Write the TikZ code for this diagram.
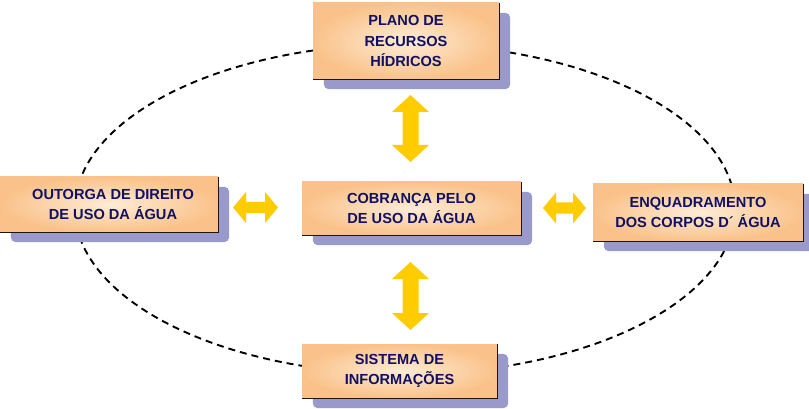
\documentclass[tikz,border=0pt]{standalone}
\usepackage{fontspec}
\setmainfont{Liberation Sans}
\usetikzlibrary{calc}
\pgfdeclarelayer{ell}
\pgfdeclarelayer{shad}
\pgfsetlayers{ell,shad,main}
\definecolor{peachout}{RGB}{250,194,138}
\definecolor{peachin}{RGB}{254,236,214}
\definecolor{shadowc}{RGB}{153,153,204}
\definecolor{navytext}{RGB}{16,16,100}
\definecolor{arrowc}{RGB}{255,204,0}
\definecolor{edgec}{RGB}{30,20,10}
\newcommand\vblockarrow[3]{% x, ytop, ybottom
  \fill[arrowc] (#1,#2) -- ++(18.5,17) -- ++(-10.5,0) -- (#1+8,#3-17) -- ++(10.5,0) -- (#1,#3)
    -- ++(-18.5,-17) -- ++(10.5,0) -- (#1-8,#2+17) -- ++(-10.5,0) -- cycle;}
\newcommand\hblockarrow[3]{% y, xleft, xright
  \fill[arrowc] (#2,#1) -- ++(13,-15.5) -- ++(0,10) -- (#3-13,#1-5.5) -- ++(0,-10) -- (#3,#1)
    -- ++(-13,15.5) -- ++(0,-10) -- (#2+13,#1+5.5) -- ++(0,10) -- cycle;}
\begin{document}
\begin{tikzpicture}[x=1pt,y=-1pt,
  box/.style={rectangle, inner sep=0pt, inner color=peachin, outer color=peachout,
    align=center, text=navytext, font=\fontsize{14.6}{20.5}\selectfont\bfseries},
  ellipseline/.style={line width=1.9pt, dash pattern=on 7pt off 5pt, black}]
\useasboundingbox (0,0) rectangle (809,409);
\begin{pgfonlayer}{ell}
  \fill[white] (0,0) rectangle (809,409);
  \draw[ellipseline] (405,209) ellipse [x radius=330pt, y radius=165pt];
\end{pgfonlayer}

\node[box, minimum width=186pt, minimum height=76pt] (plan) at (406,41) {PLANO DE\\RECURSOS\\HÍDRICOS};
\node[box, minimum width=218pt, minimum height=55pt] (outorga) at (109,204.5) {\hspace*{8pt}OUTORGA DE DIREITO\\\hspace*{8pt}DE USO DA ÁGUA};
\node[box, minimum width=219pt, minimum height=53pt] (cobranca) at (411.5,208.5) {COBRANÇA PELO\\DE USO DA ÁGUA};
\node[box, minimum width=210pt, minimum height=57pt] (enquad) at (698,212.5) {ENQUADRAMENTO\\DOS CORPOS D´ ÁGUA};
\node[box, minimum width=195pt, minimum height=54pt] (sistema) at (399.5,371) {SISTEMA DE\\INFORMAÇÕES};

\foreach \n in {plan,outorga,cobranca,enquad,sistema}{
  \draw[edgec, line width=1.2pt] (\n.north east) -- (\n.south east) -- (\n.south west);
  \begin{pgfonlayer}{shad}
    \fill[shadowc, rounded corners=5pt] ($(\n.north west)+(11,10)$) rectangle ($(\n.south east)+(11,10)$);
  \end{pgfonlayer}
}

\vblockarrow{410.5}{95}{162}
\vblockarrow{410.5}{262}{330}
\hblockarrow{207.5}{233}{278}
\hblockarrow{208}{543}{586}
\end{tikzpicture}
\end{document}
